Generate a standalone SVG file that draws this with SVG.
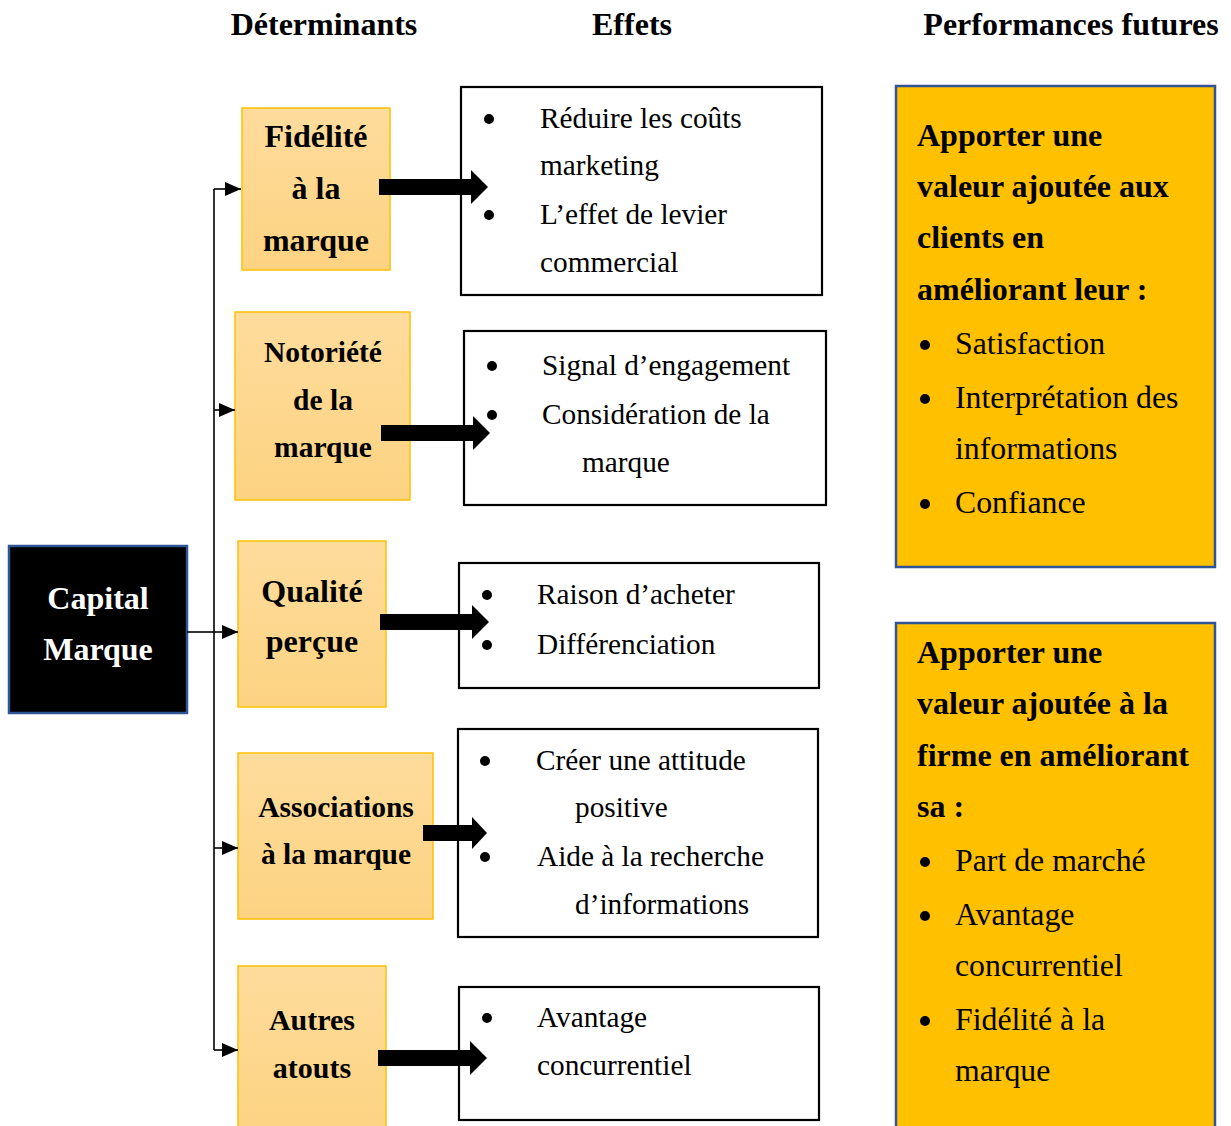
<svg xmlns="http://www.w3.org/2000/svg" width="1231" height="1126" viewBox="0 0 1231 1126">
  <defs>
    <linearGradient id="peach" x1="0" y1="0" x2="0" y2="1">
      <stop offset="0" stop-color="#fedc9c"/>
      <stop offset="1" stop-color="#fdd382"/>
    </linearGradient>
    <marker id="tip" markerWidth="16" markerHeight="14" refX="16" refY="7" orient="auto" markerUnits="userSpaceOnUse">
      <path d="M0,0 L16,7 L0,14 Z" fill="#000"/>
    </marker>
    <!-- thick block arrows, drawn from origin pointing right -->
    <path id="bigArrow" d="M0,-8 L92,-8 L92,-17 L109,0 L92,17 L92,8 L0,8 Z" fill="#000"/>
    <path id="shortArrow" d="M0,-8 L49,-8 L49,-16 L64,0 L49,16 L49,8 L0,8 Z" fill="#000"/>
  </defs>
  <style>
    text { font-family: "Liberation Serif", "Times New Roman", serif; fill: #000; }
    .title { font-size: 32px; font-weight: bold; }
    .det { font-size: 32px; font-weight: bold; text-anchor: middle; }
    .det-sm { font-size: 29.5px; }
    .det-rect { fill: url(#peach); stroke: #ffc000; stroke-width: 1.5; }
    .eff-rect { fill: #fff; stroke: #000; stroke-width: 2.2; }
    .eff { font-size: 29.3px; }
    .perf-rect { fill: #ffc000; stroke: #2f5597; stroke-width: 2.5; }
    .perf-h { font-size: 32px; font-weight: bold; }
    .perf { font-size: 31.8px; }
    .dot { fill: #000; }
    .link { fill: none; stroke: #000; stroke-width: 1.6; }
  </style>
  <rect width="1231" height="1126" fill="#fff"/>

  <!-- column headings -->
  <g id="headings">
    <text class="title" x="324" y="35" text-anchor="middle">Déterminants</text>
    <text class="title" x="632" y="35" text-anchor="middle">Effets</text>
    <text class="title" x="1071" y="35" text-anchor="middle">Performances futures</text>
  </g>

  <!-- root -->
  <g id="capital-marque">
    <rect x="9" y="546" width="178" height="167" fill="#000" stroke="#2f5597" stroke-width="2.5"/>
    <text class="det" x="98" y="609" style="fill:#fff">Capital</text>
    <text class="det" x="98" y="660" style="fill:#fff">Marque</text>
  </g>

  <!-- determinants -->
  <g id="fidelite">
    <rect class="det-rect" x="242" y="108" width="148" height="162"/>
    <text class="det" x="316" y="147">Fidélité</text>
    <text class="det" x="316" y="199">à la</text>
    <text class="det" x="316" y="251">marque</text>
  </g>
  <g id="notoriete">
    <rect class="det-rect" x="235" y="312" width="175" height="188"/>
    <text class="det det-sm" x="323" y="362">Notoriété</text>
    <text class="det det-sm" x="323" y="410">de la</text>
    <text class="det det-sm" x="323" y="457">marque</text>
  </g>
  <g id="qualite">
    <rect class="det-rect" x="238" y="541" width="148" height="166"/>
    <text class="det" x="312" y="602">Qualité</text>
    <text class="det" x="312" y="652">perçue</text>
  </g>
  <g id="associations">
    <rect class="det-rect" x="238" y="753" width="195" height="166"/>
    <text class="det det-sm" x="336" y="817">Associations</text>
    <text class="det det-sm" x="336" y="864">à la marque</text>
  </g>
  <g id="autres">
    <rect class="det-rect" x="238" y="966" width="148" height="170"/>
    <text class="det" x="312" y="1030" style="font-size:30px">Autres</text>
    <text class="det" x="312" y="1078" style="font-size:30px">atouts</text>
  </g>

  <!-- effects -->
  <g id="effets-fidelite">
    <rect class="eff-rect" x="461" y="87" width="361" height="208"/>
    <circle class="dot" cx="489" cy="119" r="5"/>
    <circle class="dot" cx="489" cy="215" r="5"/>
    <text class="eff" x="540" y="128">Réduire les coûts</text>
    <text class="eff" x="540" y="175">marketing</text>
    <text class="eff" x="540" y="224">L’effet de levier</text>
    <text class="eff" x="540" y="272">commercial</text>
  </g>
  <g id="effets-notoriete">
    <rect class="eff-rect" x="464" y="331" width="362" height="174"/>
    <circle class="dot" cx="492" cy="366" r="5"/>
    <circle class="dot" cx="492" cy="415" r="5"/>
    <text class="eff" x="542" y="375">Signal d’engagement</text>
    <text class="eff" x="542" y="424">Considération de la</text>
    <text class="eff" x="582" y="472">marque</text>
  </g>
  <g id="effets-qualite">
    <rect class="eff-rect" x="459" y="563" width="360" height="125"/>
    <circle class="dot" cx="487" cy="595" r="5"/>
    <circle class="dot" cx="487" cy="645" r="5"/>
    <text class="eff" x="537" y="604">Raison d’acheter</text>
    <text class="eff" x="537" y="654">Différenciation</text>
  </g>
  <g id="effets-associations">
    <rect class="eff-rect" x="458" y="729" width="360" height="208"/>
    <circle class="dot" cx="485" cy="761" r="5"/>
    <circle class="dot" cx="485" cy="857" r="5"/>
    <text class="eff" x="536" y="770">Créer une attitude</text>
    <text class="eff" x="575" y="817">positive</text>
    <text class="eff" x="537" y="866">Aide à la recherche</text>
    <text class="eff" x="575" y="914">d’informations</text>
  </g>
  <g id="effets-autres">
    <rect class="eff-rect" x="459" y="987" width="360" height="133"/>
    <circle class="dot" cx="487" cy="1018" r="5"/>
    <text class="eff" x="537" y="1027">Avantage</text>
    <text class="eff" x="537" y="1075">concurrentiel</text>
  </g>

  <!-- future performance -->
  <g id="perf-clients">
    <rect class="perf-rect" x="896" y="86" width="319" height="481"/>
    <text class="perf-h" x="917" y="146">Apporter une</text>
    <text class="perf-h" x="917" y="197">valeur ajoutée aux</text>
    <text class="perf-h" x="917" y="248">clients en</text>
    <text class="perf-h" x="917" y="300">améliorant leur :</text>
    <circle class="dot" cx="925" cy="345" r="5"/>
    <circle class="dot" cx="925" cy="399" r="5"/>
    <circle class="dot" cx="925" cy="504" r="5"/>
    <text class="perf" x="955" y="354">Satisfaction</text>
    <text class="perf" x="955" y="408">Interprétation des</text>
    <text class="perf" x="955" y="459">informations</text>
    <text class="perf" x="955" y="513">Confiance</text>
  </g>
  <g id="perf-firme">
    <rect class="perf-rect" x="896" y="623" width="319" height="520"/>
    <text class="perf-h" x="917" y="663">Apporter une</text>
    <text class="perf-h" x="917" y="714">valeur ajoutée à la</text>
    <text class="perf-h" x="917" y="766">firme en améliorant</text>
    <text class="perf-h" x="917" y="817">sa :</text>
    <circle class="dot" cx="925" cy="862" r="5"/>
    <circle class="dot" cx="925" cy="916" r="5"/>
    <circle class="dot" cx="925" cy="1021" r="5"/>
    <text class="perf" x="955" y="871">Part de marché</text>
    <text class="perf" x="955" y="925">Avantage</text>
    <text class="perf" x="955" y="976">concurrentiel</text>
    <text class="perf" x="955" y="1030">Fidélité à la</text>
    <text class="perf" x="955" y="1081">marque</text>
  </g>

  <!-- connectors: thin tree from the root, block arrows to the effects -->
  <g id="connectors">
    <path class="link" d="M187,632 H214"/>
    <path class="link" d="M214,189 V1050"/>
    <path class="link" d="M214,189 H241" marker-end="url(#tip)"/>
    <path class="link" d="M214,410 H235" marker-end="url(#tip)"/>
    <path class="link" d="M214,632 H238" marker-end="url(#tip)"/>
    <path class="link" d="M214,848 H238" marker-end="url(#tip)"/>
    <path class="link" d="M214,1050 H238" marker-end="url(#tip)"/>
    <use href="#bigArrow" x="379" y="187"/>
    <use href="#bigArrow" x="381" y="433"/>
    <use href="#bigArrow" x="380" y="622"/>
    <use href="#shortArrow" x="423" y="833"/>
    <use href="#bigArrow" x="378" y="1058"/>
  </g>
</svg>
